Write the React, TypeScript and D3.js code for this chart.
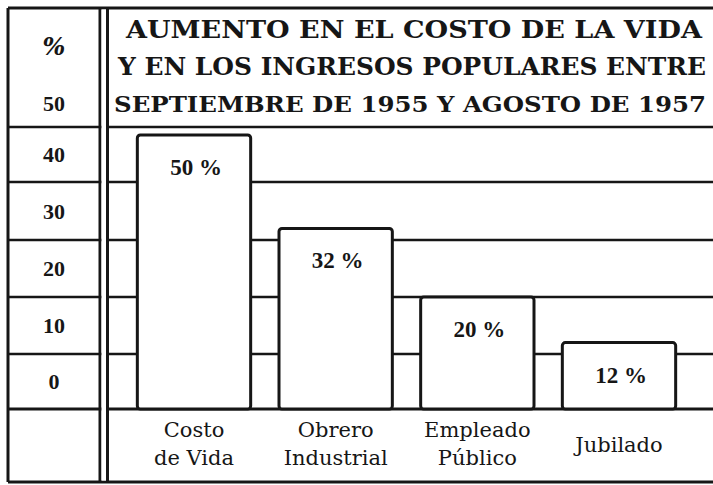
import * as d3 from "d3";

// ---------- DATA ----------
const categories = ["Costo de Vida", "Obrero Industrial", "Empleado Público", "Jubilado"];
const categoryLines = [["Costo", "de Vida"], ["Obrero", "Industrial"], ["Empleado", "Público"], ["Jubilado"]];
const values = [50, 32, 20, 12];
const gridTicks = [0, 10, 20, 30, 40];
const axisLabels = ["0", "10", "20", "30", "40"];
const topLabel = "50";
const unitLabel = "%";
const titleLines = [
  "AUMENTO EN EL COSTO DE LA VIDA",
  "Y EN LOS INGRESOS POPULARES ENTRE",
  "SEPTIEMBRE DE 1955 Y AGOSTO DE 1957",
];

// ---------- LAYOUT ----------
const W = 713;
const H = 485;
const left = 8;
const top = 8;
const bottom = 482;
const colRight = 100;
const plotLeft = 107.5;
const titleBottom = 127;
const ink = "#161616";

const serif = "'DejaVu Serif', serif";
const timesBold = "'Liberation Serif', serif";

export default function App() {
  // hand drawn original: the rows are not exactly even, so the scale follows them
  const y = d3.scaleLinear()
    .domain([0, 10, 20, 30, 40, 50])
    .range([409, 354, 297, 240, 182, 135]);

  const x = d3.scaleBand<string>()
    .domain(categories)
    .range([109, 704])
    .paddingInner(0.2)
    .paddingOuter(0.2);

  // start x, width and font size of each title line
  const titleX = [
    [126, 576, 25],
    [118, 588, 24],
    [114, 592, 23],
  ];

  return (
    <svg
      width={W}
      height={H}
      style={{ position: "absolute", left: 0, top: 0, background: "#fff", display: "block" }}
    >
      <rect x={0} y={0} width={W} height={H} fill="#fff" />

      {/* grid rows */}
      {gridTicks.map(t => (
        <line key={t} x1={left} x2={W + 5} y1={y(t)} y2={y(t)} stroke={ink} strokeWidth={t === 0 ? 3 : 2.6} />
      ))}
      <line x1={left} x2={W + 5} y1={titleBottom} y2={titleBottom} stroke={ink} strokeWidth={2.6} />

      {/* bars */}
      {categories.map((c, i) => (
        <rect
          key={c}
          x={x(c)}
          y={y(values[i])}
          width={x.bandwidth()}
          height={y(0) - y(values[i])}
          rx={3}
          fill="#fff"
          stroke={ink}
          strokeWidth={3}
        />
      ))}

      {/* value labels */}
      {categories.map((c, i) => (
        <text
          key={c}
          x={x(c)! + x.bandwidth() / 2 + 2}
          y={y(values[i]) + 40}
          textAnchor="middle"
          fontFamily={timesBold}
          fontWeight="bold"
          fontSize={23}
          fill={ink}
        >
          {values[i]} %
        </text>
      ))}

      {/* category labels */}
      {categories.map((c, i) => {
        const lines = categoryLines[i];
        const cx = x(c)! + x.bandwidth() / 2;
        const base = lines.length > 1 ? 437 : 452;
        return (
          <text key={c} textAnchor="middle" fontFamily={serif} fontSize={21} fill={ink}>
            {lines.map((l, j) => (
              <tspan key={j} x={cx} y={base + j * 28}>{l}</tspan>
            ))}
          </text>
        );
      })}

      {/* left column labels */}
      {gridTicks.map((t, i) => (
        <text
          key={t}
          x={(left + colRight) / 2}
          y={(y(t) + (i < gridTicks.length - 1 ? y(gridTicks[i + 1]) : titleBottom)) / 2}
          dy="0.35em"
          textAnchor="middle"
          fontFamily={timesBold}
          fontWeight="bold"
          fontSize={22}
          fill={ink}
        >
          {axisLabels[i]}
        </text>
      ))}
      <text x={(left + colRight) / 2} y={titleBottom - 24} dy="0.35em" textAnchor="middle"
        fontFamily={timesBold} fontWeight="bold" fontSize={22} fill={ink}>
        {topLabel}
      </text>
      <text x={(left + colRight) / 2} y={47} dy="0.35em" textAnchor="middle"
        fontFamily={serif} fontStyle="italic" fontWeight="bold" fontSize={24} fill={ink}>
        {unitLabel}
      </text>

      {/* title */}
      {titleLines.map((t, i) => (
        <text
          key={t}
          x={titleX[i][0]}
          y={38 + i * 37}
          textLength={titleX[i][1]}
          lengthAdjust="spacingAndGlyphs"
          fontFamily={serif}
          fontWeight="bold"
          fontSize={titleX[i][2]}
          fill={ink}
        >
          {t}
        </text>
      ))}

      {/* frame */}
      <line x1={left} x2={W + 5} y1={top} y2={top} stroke={ink} strokeWidth={3} />
      <line x1={left} x2={W + 5} y1={bottom} y2={bottom} stroke={ink} strokeWidth={3} />
      <line x1={left} x2={left} y1={top} y2={bottom} stroke={ink} strokeWidth={3} />
      <line x1={colRight} x2={colRight} y1={top} y2={bottom} stroke={ink} strokeWidth={3} />
      <line x1={plotLeft} x2={plotLeft} y1={top} y2={bottom} stroke={ink} strokeWidth={3} />
      <rect x={colRight + 1.5} y={top + 1.5} width={plotLeft - colRight - 3} height={bottom - top - 3} fill="#fff" />
    </svg>
  );
}
